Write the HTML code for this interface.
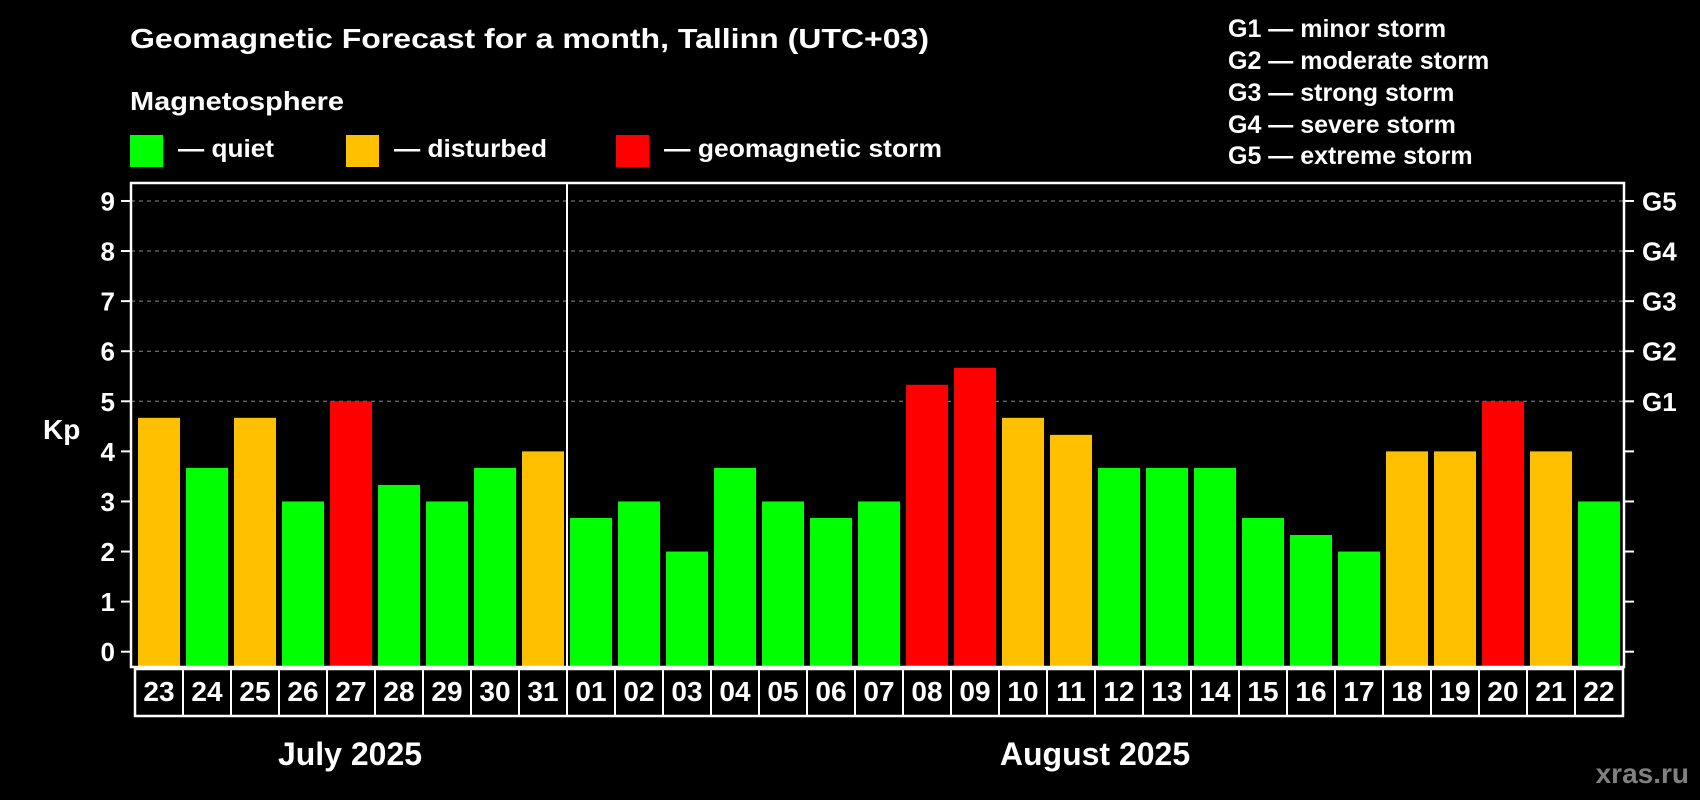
<!DOCTYPE html>
<html><head><meta charset="utf-8"><style>
html,body{margin:0;padding:0;background:#000;}
svg{display:block;font-family:"Liberation Sans",Arial,sans-serif;font-weight:bold;}
</style></head><body>
<svg id="chart" width="1700" height="800" viewBox="0 0 1700 800" xmlns="http://www.w3.org/2000/svg">
<rect x="0" y="0" width="1700" height="800" fill="#000"/>
<text x="130" y="48" fill="#fff" font-size="28" textLength="799" lengthAdjust="spacingAndGlyphs">Geomagnetic Forecast for a month, Tallinn (UTC+03)</text>
<text x="130" y="110" fill="#fff" font-size="26" textLength="214" lengthAdjust="spacingAndGlyphs">Magnetosphere</text>
<rect x="130" y="135" width="33" height="32" fill="#00ff00"/>
<text x="178" y="157" fill="#fff" font-size="25" textLength="96" lengthAdjust="spacingAndGlyphs">— quiet</text>
<rect x="346" y="135" width="33" height="32" fill="#ffc000"/>
<text x="394" y="157" fill="#fff" font-size="25" textLength="153" lengthAdjust="spacingAndGlyphs">— disturbed</text>
<rect x="616" y="135" width="33" height="32" fill="#ff0000"/>
<text x="664" y="157" fill="#fff" font-size="25" textLength="278" lengthAdjust="spacingAndGlyphs">— geomagnetic storm</text>
<g fill="#fff" font-size="25">
<text x="1228" y="37">G1 — minor storm</text>
<text x="1228" y="69">G2 — moderate storm</text>
<text x="1228" y="101">G3 — strong storm</text>
<text x="1228" y="133">G4 — severe storm</text>
<text x="1228" y="164">G5 — extreme storm</text>
</g>
<text x="43" y="439" fill="#fff" font-size="28">Kp</text>
<text x="350" y="765" fill="#fff" font-size="32" text-anchor="middle">July 2025</text>
<text x="1095" y="765" fill="#fff" font-size="32" text-anchor="middle">August 2025</text>
<text x="1689" y="783" fill="#808080" font-size="28" text-anchor="end">xras.ru</text>
<g id="plot"></g>
</svg>
<script>
const days = ["23","24","25","26","27","28","29","30","31","01","02","03","04","05","06","07","08","09","10","11","12","13","14","15","16","17","18","19","20","21","22"];
const kpValues = [4.67,3.67,4.67,3,5,3.33,3,3.67,4,2.67,3,2,3.67,3,2.67,3,5.33,5.67,4.67,4.33,3.67,3.67,3.67,2.67,2.33,2,4,4,5,4,3];
const yTicks = [0,1,2,3,4,5,6,7,8,9];
const gridTicks = [5,6,7,8,9];
const gLabels = ["G1","G2","G3","G4","G5"];
const julyCount = 9;

const NS = "http://www.w3.org/2000/svg";
const plot = document.getElementById("plot");
const PL = 131, PR = 1624, PT = 183, PB = 667;
const Y0 = 651.7, UNIT = 50.08;
const BAR0 = 138, PITCH = 48, BW = 42, BOX0 = 135;
function yScale(v){ return Y0 - v * UNIT; }
function xBar(i){ return BAR0 + i * PITCH; }
function colorFor(v){ return v >= 5 ? "#ff0000" : (v >= 4 ? "#ffc000" : "#00ff00"); }
function mk(tag, attrs){ const e = document.createElementNS(NS, tag); for (const k in attrs) e.setAttribute(k, attrs[k]); plot.appendChild(e); return e; }

gridTicks.forEach(t => {
  const l = mk("line", {x1:PL, x2:PR, y1:yScale(t), y2:yScale(t), stroke:"#8c8c8c", "stroke-width":1, "stroke-dasharray":"4,4"});
  
  
});
kpValues.forEach((v, i) => {
  const r = mk("rect", {x:xBar(i), y:yScale(v), width:BW, height:PB - yScale(v), fill:colorFor(v)});
  
  
});
const frame = mk("rect", {x:PL, y:PT, width:PR-PL, height:PB-PT, fill:"none", stroke:"#fff", "stroke-width":2.5});


const sep = mk("line", {x1:BOX0 + julyCount*PITCH, x2:BOX0 + julyCount*PITCH, y1:PT, y2:PB, stroke:"#fff", "stroke-width":2});


yTicks.forEach(t => {
  const y = yScale(t);
  const tl = mk("line", {x1:PL-10, x2:PL, y1:y, y2:y, stroke:"#fff", "stroke-width":2});
  
  
  const tr = mk("line", {x1:PR, x2:PR+10, y1:y, y2:y, stroke:"#fff", "stroke-width":2});
  
  
  const tx = mk("text", {x:115, y:y+9.5, fill:"#fff", "font-size":26, "text-anchor":"end"});
  tx.textContent = String(t);
  
  
});
gLabels.forEach((g, i) => {
  const tx = mk("text", {x:1642, y:yScale(5+i)+9.5, fill:"#fff", "font-size":26});
  tx.textContent = g;
  
  
});
const box = mk("rect", {x:BOX0, y:669, width:days.length*PITCH, height:47, fill:"#000", stroke:"#fff", "stroke-width":2.5});


days.forEach((d, i) => {
  if (i > 0) {
    const dv = mk("line", {x1:BOX0+i*PITCH, x2:BOX0+i*PITCH, y1:669, y2:716, stroke:"#fff", "stroke-width":2});
    
    
  }
  const tx = mk("text", {x:BOX0 + i*PITCH + PITCH/2, y:701, fill:"#fff", "font-size":28, "text-anchor":"middle"});
  tx.textContent = d;
  
  
});
</script>
</body></html>
